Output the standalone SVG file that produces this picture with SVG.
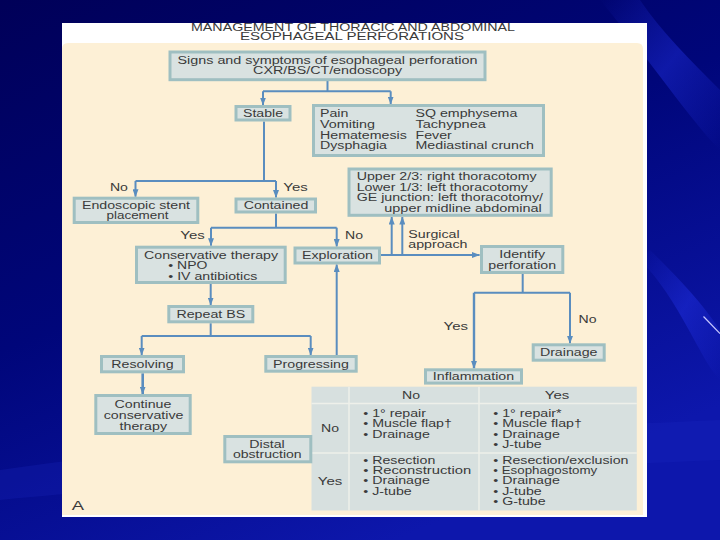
<svg xmlns="http://www.w3.org/2000/svg" width="720" height="540" viewBox="0 0 720 540">
<defs>
<linearGradient id="bg" x1="0" y1="0" x2="0.55" y2="1">
<stop offset="0" stop-color="#000058"/>
<stop offset="0.5" stop-color="#00067a"/>
<stop offset="1" stop-color="#0d17ac"/>
</linearGradient>
<linearGradient id="streak" x1="0" y1="0" x2="1" y2="1">
<stop offset="0" stop-color="#2a3cff" stop-opacity="0"/>
<stop offset="0.5" stop-color="#2a3cff" stop-opacity="0.35"/>
<stop offset="1" stop-color="#2a3cff" stop-opacity="0"/>
</linearGradient>
<marker id="ah" viewBox="0 0 8 6" refX="7.5" refY="3" markerWidth="8" markerHeight="6" markerUnits="userSpaceOnUse" orient="auto">
<path d="M0,0 L8,3 L0,6 z" fill="#5a8dbf"/>
</marker>
<style>
.box{fill:#d9e2e1;stroke:#9fbfc1;stroke-width:3}
.t{font-family:"Liberation Sans",Arial,Helvetica,sans-serif;font-size:10px;fill:#3a3a3a}
.m{text-anchor:middle}
.conn{fill:none;stroke:#5a8dbf;stroke-width:2}
.arr{marker-end:url(#ah)}
.grid{stroke:#eef0ea;stroke-width:1.5;fill:none}
</style>
</defs>

<!-- background -->
<rect x="0" y="0" width="720" height="540" fill="url(#bg)"/>
<path d="M600,0 C650,60 690,120 720,150 L720,90 C690,60 660,30 640,0 Z" fill="url(#streak)"/>
<path d="M640,260 C680,300 700,360 720,380 L720,330 C700,300 680,280 650,250 Z" fill="url(#streak)"/>
<path d="M0,470 C200,440 500,430 720,420 L720,460 C500,470 200,480 0,500 Z" fill="#1a28c0" opacity="0.25"/>
<line x1="703.5" y1="316.5" x2="720" y2="333.5" stroke="#c8c8ff" stroke-width="1.2"/>

<!-- figure panel -->
<rect x="62" y="23" width="585" height="494" fill="#ffffff"/>
<path d="M62,49 Q62,43 68,43 L637,43 Q643,43 643,49 L643,515 L62,515 Z" fill="#fdf0d6"/>

<g id="title">
<text class="t m" x="353" y="30.5" fill="#474747" textLength="324" lengthAdjust="spacingAndGlyphs">MANAGEMENT OF THORACIC AND ABDOMINAL</text>
<text class="t m" x="352" y="40.2" fill="#474747" textLength="224" lengthAdjust="spacingAndGlyphs">ESOPHAGEAL PERFORATIONS</text>
</g>

<!-- connectors -->
<g id="connectors">
<path class="conn" d="M327.5,81 V91.3 M263,91.3 H390.7"/>
<path class="conn arr" d="M263,91.3 V105"/>
<path class="conn arr" d="M390.7,91.3 V104"/>
<path class="conn" d="M264,121.5 V181 M135.5,181 H276"/>
<path class="conn arr" d="M135.5,181 V196.7"/>
<path class="conn arr" d="M276,181 V197.5"/>
<path class="conn" d="M276,213.5 V227.7 M211,227.7 H336.7"/>
<path class="conn arr" d="M211,227.7 V245.7"/>
<path class="conn arr" d="M336.7,227.7 V246.5"/>
<path class="conn arr" d="M381,255 H479.5"/>
<path class="conn arr" d="M391.7,255 V217"/>
<path class="conn arr" d="M402.3,255 V217"/>
<path class="conn" d="M522.7,274 V292.7 M474,292.7 H570"/>
<path class="conn arr" d="M474,292.7 V368.3" style="stroke-width:2.4"/>
<path class="conn arr" d="M570,292.7 V343.3"/>
<path class="conn arr" d="M210.7,284 V305"/>
<path class="conn" d="M210.7,323.3 V336 M141.7,336 H310.7"/>
<path class="conn arr" d="M141.7,336 V355"/>
<path class="conn arr" d="M310.7,336 V355"/>
<path class="conn arr" d="M336.7,355 V264.5"/>
<path class="conn arr" d="M142.7,373.3 V394" style="stroke-width:2.6"/>
</g>

<!-- edge labels -->
<g id="labels">
<text class="t m" x="118.9" y="191.3" textLength="18" lengthAdjust="spacingAndGlyphs">No</text>
<text class="t m" x="295.5" y="191.3" textLength="24.5" lengthAdjust="spacingAndGlyphs">Yes</text>
<text class="t m" x="192.5" y="238.6" textLength="24.5" lengthAdjust="spacingAndGlyphs">Yes</text>
<text class="t m" x="354" y="238.6" textLength="18" lengthAdjust="spacingAndGlyphs">No</text>
<text class="t" x="408.3" y="237.6" textLength="51.3" lengthAdjust="spacingAndGlyphs">Surgical</text>
<text class="t" x="408.3" y="247.9" textLength="59.2" lengthAdjust="spacingAndGlyphs">approach</text>
<text class="t m" x="455.8" y="329.6" textLength="24.5" lengthAdjust="spacingAndGlyphs">Yes</text>
<text class="t m" x="587.5" y="322.9" textLength="18" lengthAdjust="spacingAndGlyphs">No</text>
</g>

<g id="n-top">
<rect class="box" x="170" y="52" width="315" height="27.7"/>
<text class="t m" x="327.5" y="63.8" textLength="300" lengthAdjust="spacingAndGlyphs">Signs and symptoms of esophageal perforation</text>
<text class="t m" x="327.6" y="74.1" textLength="149" lengthAdjust="spacingAndGlyphs">CXR/BS/CT/endoscopy</text>
</g>

<g id="n-stable">
<rect class="box" x="236" y="106.5" width="54" height="13.5"/>
<text class="t m" x="263" y="117" textLength="40" lengthAdjust="spacingAndGlyphs">Stable</text>
</g>

<g id="n-symptoms">
<rect class="box" x="313.5" y="105.5" width="230" height="50"/>
<text class="t" x="320" y="117.2" textLength="28.4" lengthAdjust="spacingAndGlyphs">Pain</text>
<text class="t" x="320" y="128.3" textLength="55" lengthAdjust="spacingAndGlyphs">Vomiting</text>
<text class="t" x="320" y="138.6" textLength="86.8" lengthAdjust="spacingAndGlyphs">Hematemesis</text>
<text class="t" x="320" y="148.9" textLength="67" lengthAdjust="spacingAndGlyphs">Dysphagia</text>
<text class="t" x="415.5" y="117.2" textLength="101.8" lengthAdjust="spacingAndGlyphs">SQ emphysema</text>
<text class="t" x="415.5" y="128.3" textLength="70.3" lengthAdjust="spacingAndGlyphs">Tachypnea</text>
<text class="t" x="415.5" y="138.6" textLength="36.3" lengthAdjust="spacingAndGlyphs">Fever</text>
<text class="t" x="415.5" y="148.9" textLength="118.4" lengthAdjust="spacingAndGlyphs">Mediastinal crunch</text>
</g>

<g id="n-surgical">
<rect class="box" x="349" y="169" width="202.2" height="46.3"/>
<text class="t" x="356.7" y="180.1" textLength="180" lengthAdjust="spacingAndGlyphs">Upper 2/3: right thoracotomy</text>
<text class="t" x="356.7" y="190.6" textLength="171.3" lengthAdjust="spacingAndGlyphs">Lower 1/3: left thoracotomy</text>
<text class="t" x="356.7" y="201.1" textLength="186.3" lengthAdjust="spacingAndGlyphs">GE junction: left thoracotomy/</text>
<text class="t" x="384.3" y="211.6" textLength="157.5" lengthAdjust="spacingAndGlyphs">upper midline abdominal</text>
</g>

<g id="n-stent">
<rect class="box" x="74.2" y="198.2" width="123.6" height="24.3"/>
<text class="t m" x="136" y="208.6" textLength="108" lengthAdjust="spacingAndGlyphs">Endoscopic stent</text>
<text class="t m" x="137.5" y="218.9" textLength="62" lengthAdjust="spacingAndGlyphs">placement</text>
</g>

<g id="n-contained">
<rect class="box" x="236" y="199" width="79.5" height="13"/>
<text class="t m" x="276" y="209.4" textLength="64.7" lengthAdjust="spacingAndGlyphs">Contained</text>
</g>

<g id="n-conservative">
<rect class="box" x="136.5" y="247.2" width="148.7" height="35.3"/>
<text class="t m" x="211" y="258.6" textLength="134" lengthAdjust="spacingAndGlyphs">Conservative therapy</text>
<text class="t" x="168.3" y="269.3" textLength="39" lengthAdjust="spacingAndGlyphs">• NPO</text>
<text class="t" x="168.3" y="279.6" textLength="89" lengthAdjust="spacingAndGlyphs">• IV antibiotics</text>
</g>

<g id="n-exploration">
<rect class="box" x="295" y="248" width="84.5" height="15"/>
<text class="t m" x="337.5" y="259" textLength="71" lengthAdjust="spacingAndGlyphs">Exploration</text>
</g>

<g id="n-identify">
<rect class="box" x="481.5" y="246.5" width="81.3" height="26"/>
<text class="t m" x="522.2" y="257.6" textLength="45.8" lengthAdjust="spacingAndGlyphs">Identify</text>
<text class="t m" x="522.2" y="268.6" textLength="67.9" lengthAdjust="spacingAndGlyphs">perforation</text>
</g>

<g id="n-repeat">
<rect class="box" x="168.8" y="306.5" width="84" height="15.3"/>
<text class="t m" x="210.8" y="317.9" textLength="68.7" lengthAdjust="spacingAndGlyphs">Repeat BS</text>
</g>

<g id="n-resolving">
<rect class="box" x="101.5" y="356.5" width="82" height="15.3"/>
<text class="t m" x="142.5" y="367.9" textLength="62.3" lengthAdjust="spacingAndGlyphs">Resolving</text>
</g>

<g id="n-progressing">
<rect class="box" x="265.8" y="356.5" width="90.4" height="14.7"/>
<text class="t m" x="311" y="367.6" textLength="75.8" lengthAdjust="spacingAndGlyphs">Progressing</text>
</g>

<g id="n-continue">
<rect class="box" x="95.8" y="395.5" width="94.4" height="38"/>
<text class="t m" x="143" y="407.9" textLength="56.8" lengthAdjust="spacingAndGlyphs">Continue</text>
<text class="t m" x="143.6" y="419.3" textLength="79.7" lengthAdjust="spacingAndGlyphs">conservative</text>
<text class="t m" x="143.3" y="429.6" textLength="47.4" lengthAdjust="spacingAndGlyphs">therapy</text>
</g>

<g id="n-drainage">
<rect class="box" x="533.2" y="344.8" width="71" height="15.4"/>
<text class="t m" x="568.7" y="355.9" textLength="57.6" lengthAdjust="spacingAndGlyphs">Drainage</text>
</g>

<g id="n-inflammation">
<rect class="box" x="425.5" y="369.8" width="96" height="13.3"/>
<text class="t m" x="473.5" y="380.1" textLength="81.3" lengthAdjust="spacingAndGlyphs">Inflammation</text>
</g>

<g id="n-table">
<rect x="311.5" y="386.7" width="325.3" height="123.8" fill="#d7e0df"/>
<path class="grid" d="M349,386.7 V510.5 M479,386.7 V510.5 M311.5,403.5 H636.8 M311.5,453 H636.8"/>
<text class="t m" x="411" y="398.6" textLength="18" lengthAdjust="spacingAndGlyphs">No</text>
<text class="t m" x="557" y="398.6" textLength="24.5" lengthAdjust="spacingAndGlyphs">Yes</text>
<text class="t m" x="330" y="431.9" textLength="18" lengthAdjust="spacingAndGlyphs">No</text>
<text class="t m" x="330" y="485.3" textLength="24.5" lengthAdjust="spacingAndGlyphs">Yes</text>
<text class="t" x="363.3" y="416.9" textLength="62.7" lengthAdjust="spacingAndGlyphs">• 1° repair</text>
<text class="t" x="363.3" y="427.2" textLength="88.6" lengthAdjust="spacingAndGlyphs">• Muscle flap†</text>
<text class="t" x="363.3" y="437.5" textLength="66.5" lengthAdjust="spacingAndGlyphs">• Drainage</text>
<text class="t" x="493.3" y="416.9" textLength="68.3" lengthAdjust="spacingAndGlyphs">• 1° repair*</text>
<text class="t" x="493.3" y="427.2" textLength="88.6" lengthAdjust="spacingAndGlyphs">• Muscle flap†</text>
<text class="t" x="493.3" y="437.5" textLength="66.5" lengthAdjust="spacingAndGlyphs">• Drainage</text>
<text class="t" x="493.3" y="447.8" textLength="48.4" lengthAdjust="spacingAndGlyphs">• J-tube</text>
<text class="t" x="363.3" y="463.6" textLength="72" lengthAdjust="spacingAndGlyphs">• Resection</text>
<text class="t" x="363.3" y="473.9" textLength="107.9" lengthAdjust="spacingAndGlyphs">• Reconstruction</text>
<text class="t" x="363.3" y="484.2" textLength="66.5" lengthAdjust="spacingAndGlyphs">• Drainage</text>
<text class="t" x="363.3" y="494.5" textLength="48.4" lengthAdjust="spacingAndGlyphs">• J-tube</text>
<text class="t" x="493.3" y="463.6" textLength="135.2" lengthAdjust="spacingAndGlyphs">• Resection/exclusion</text>
<text class="t" x="493.3" y="473.9" textLength="104" lengthAdjust="spacingAndGlyphs">• Esophagostomy</text>
<text class="t" x="493.3" y="484.2" textLength="66.5" lengthAdjust="spacingAndGlyphs">• Drainage</text>
<text class="t" x="493.3" y="494.5" textLength="48.4" lengthAdjust="spacingAndGlyphs">• J-tube</text>
<text class="t" x="493.3" y="504.8" textLength="52.3" lengthAdjust="spacingAndGlyphs">• G-tube</text>
</g>

<g id="n-distal">
<rect class="box" x="224.8" y="436.5" width="86" height="25.3"/>
<text class="t m" x="267" y="447.6" textLength="35.5" lengthAdjust="spacingAndGlyphs">Distal</text>
<text class="t m" x="267.3" y="457.9" textLength="68.7" lengthAdjust="spacingAndGlyphs">obstruction</text>
</g>

<g id="panel-label">
<text class="t" x="71.7" y="510" style="font-size:13px" textLength="12.3" lengthAdjust="spacingAndGlyphs">A</text>
</g>
</svg>
